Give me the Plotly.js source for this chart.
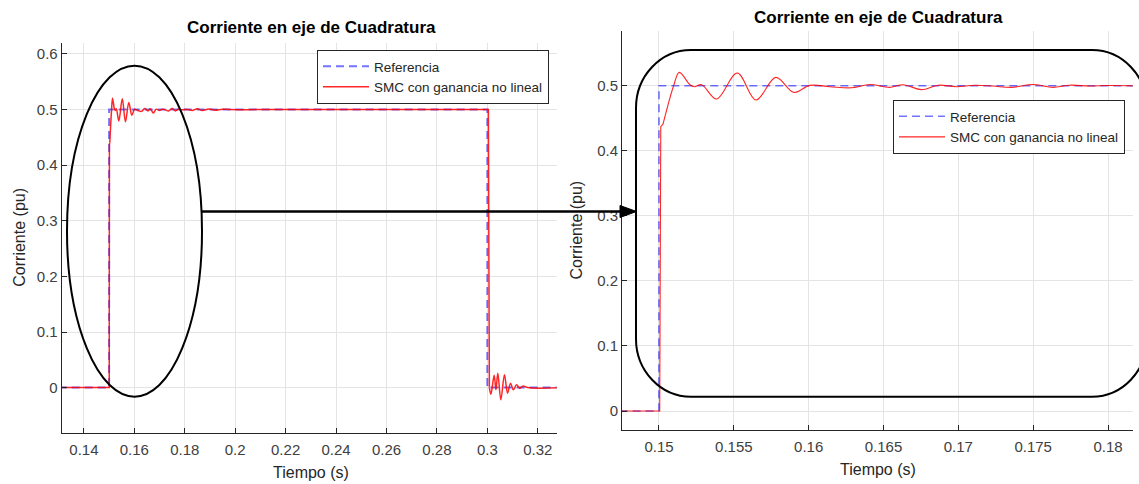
<!DOCTYPE html>
<html><head><meta charset="utf-8">
<script src="https://cdn.plot.ly/plotly-3.0.1.min.js"></script>
<style>html,body{margin:0;padding:0;background:#fff;} #chart{width:1139px;height:484px;}</style>
</head><body><div id="chart"></div>
<script>
// ---------------- data ----------------
const chartTitle = 'Corriente en eje de Cuadratura';
const xLabel = 'Tiempo (s)';
const yLabel = 'Corriente (pu)';
const seriesNames = ['Referencia', 'SMC con ganancia no lineal'];

// reference (step)
const refT = [0.13, 0.15, 0.15, 0.30, 0.30, 0.33];
const refV = [0, 0, 0.5, 0.5, 0, 0];

// SMC response (split into sharp steps and smooth ringing)
const smcStepUpT = [0.13, 0.15005, 0.15012, 0.15027];
const smcStepUpV = [0, 0, 0.437, 0.441];
const smcRippleT = [0.15027, 0.15098, 0.15136, 0.15207, 0.15236, 0.15285, 0.15385, 0.15523, 0.15648, 0.15781,
  0.15901, 0.16008, 0.16141, 0.16286, 0.16409, 0.16540, 0.16631, 0.16754, 0.16865, 0.16987,
  0.17110, 0.17230, 0.17355, 0.17499, 0.17632, 0.17744, 0.17877, 0.18000, 0.18133, 0.1830,
  0.1850, 0.1870, 0.1895, 0.1920, 0.1950, 0.1980, 0.2100, 0.3000];
const smcRippleV = [0.441, 0.5, 0.5205, 0.5015, 0.4985, 0.5015, 0.4795, 0.5195, 0.478, 0.5128,
  0.4897, 0.5005, 0.4985, 0.4968, 0.5018, 0.4975, 0.5015, 0.494, 0.5008, 0.4985,
  0.5008, 0.4995, 0.4974, 0.5018, 0.4975, 0.5008, 0.4995, 0.5003, 0.5, 0.4985,
  0.5015, 0.4985, 0.5012, 0.499, 0.5008, 0.5, 0.5, 0.5];
const smcStepDownT = [0.3000, 0.30040, 0.30080];
const smcStepDownV = [0.5, 0.5, 0.0];
const smcRingT = [0.30080, 0.30140, 0.30270, 0.30340, 0.30415, 0.30535, 0.30678, 0.30800, 0.30920, 0.31030,
  0.31160, 0.31280, 0.31420, 0.31600, 0.33];
const smcRingV = [0.0, -0.012, 0.022, -0.004, 0.026, -0.022, 0.023, -0.010, 0.008, -0.004,
  0.005, -0.001, 0.003, 0, 0];

// ticks
const leftXTicks = [0.14, 0.16, 0.18, 0.2, 0.22, 0.24, 0.26, 0.28, 0.3, 0.32];
const leftXTickText = ['0.14', '0.16', '0.18', '0.2', '0.22', '0.24', '0.26', '0.28', '0.3', '0.32'];
const leftYTicks = [0, 0.1, 0.2, 0.3, 0.4, 0.5, 0.6];
const leftYTickText = ['0', '0.1', '0.2', '0.3', '0.4', '0.5', '0.6'];
const rightXTicks = [0.15, 0.155, 0.16, 0.165, 0.17, 0.175, 0.18];
const rightXTickText = ['0.15', '0.155', '0.16', '0.165', '0.17', '0.175', '0.18'];
const rightYTicks = [0, 0.1, 0.2, 0.3, 0.4, 0.5];
const rightYTickText = ['0', '0.1', '0.2', '0.3', '0.4', '0.5'];

// ---------------- layout helpers ----------------
const W = 1139, H = 484;
const px = x => x / W, py = y => 1 - y / H;
const FONT = 'Liberation Sans, Arial, Helvetica, sans-serif';
const AX = '#262626';

const blue = 'rgba(0,0,255,0.55)';
const red = 'rgba(255,0,0,0.85)';

function makeTraces(xa, ya, leg, redW, blueW) {
  const t = [];
  t.push({x: refT, y: refV, xaxis: xa, yaxis: ya, mode: 'lines', name: seriesNames[0], legend: leg,
    line: {color: blue, width: blueW, dash: '8px,5px'}});
  const segs = [[smcStepUpT, smcStepUpV, 'linear'], [smcRippleT, smcRippleV, 'spline'],
                [smcStepDownT, smcStepDownV, 'linear'], [smcRingT, smcRingV, 'spline']];
  segs.forEach((s, i) => {
    t.push({x: s[0], y: s[1], xaxis: xa, yaxis: ya, mode: 'lines', name: seriesNames[1], legend: leg,
      legendgroup: 'smc' + leg, showlegend: i === 0,
      line: {color: red, width: redW, shape: s[2], smoothing: 1}});
  });
  return t;
}

const data = makeTraces('x', 'y', 'legend', 1.5, 2).concat(makeTraces('x2', 'y2', 'legend2', 1.1, 1.6));

function axisBase() {
  return {showline: true, linecolor: AX, linewidth: 1, mirror: false, showgrid: true, gridcolor: '#e4e4e4',
    gridwidth: 1, zeroline: false, ticks: 'inside', ticklen: 5, tickwidth: 1, tickcolor: AX,
    tickmode: 'array', tickfont: {family: FONT, size: 15, color: '#404040'}, fixedrange: true};
}

const xaxis = Object.assign(axisBase(), {domain: [px(61.7), px(556.7)], range: [0.1312, 0.3275], anchor: 'y',
  tickvals: leftXTicks, ticktext: leftXTickText, ticklabelstandoff: 3});
const yaxis = Object.assign(axisBase(), {domain: [py(432.7), py(42.7)], range: [-0.0811, 0.6203], anchor: 'x',
  tickvals: leftYTicks, ticktext: leftYTickText});
const xaxis2 = Object.assign(axisBase(), {domain: [px(622), px(1132.7)], range: [0.14753, 0.18165], anchor: 'y2',
  tickvals: rightXTicks, ticktext: rightXTickText, ticklabelstandoff: 3});
const yaxis2 = Object.assign(axisBase(), {domain: [py(430), py(31)], range: [-0.0292, 0.5841], anchor: 'x2',
  tickvals: rightYTicks, ticktext: rightYTickText});

function legendBox(x, y) {
  return {x: px(x), y: py(y), xref: 'paper', yref: 'paper', xanchor: 'left', yanchor: 'top',
    bgcolor: '#ffffff', bordercolor: AX, borderwidth: 1, tracegroupgap: 0, itemwidth: 46,
    font: {family: FONT, size: 13.5, color: '#262626'}};
}

function ann(text, x, y, size, angle, color) {
  return {text: text, x: px(x), y: py(y), xref: 'paper', yref: 'paper', showarrow: false,
    xanchor: 'center', yanchor: 'middle', textangle: angle || 0,
    font: {family: FONT, size: size, color: color || '#262626'}};
}

const annotations = [
  ann('<b>' + chartTitle + '</b>', 311, 27.5, 17, 0, '#000'),
  ann('<b>' + chartTitle + '</b>', 878, 17.5, 17, 0, '#000'),
  ann(xLabel, 310.5, 472, 16),
  ann(xLabel, 878, 469, 16),
  ann(yLabel, 20, 237.7, 16, -90),
  ann(yLabel, 576, 230.5, 16, -90)
];

// rounded rectangle path (cubic approximations of quarter ellipses), pixel -> paper
function P(x, y) { return px(x).toFixed(5) + ',' + py(y).toFixed(5); }
function roundRect(x0, y0, x1, y1, rx, ry) {
  const k = 0.5523;
  return 'M' + P(x0 + rx, y0) + ' L' + P(x1 - rx, y0) +
    ' C' + P(x1 - rx + k * rx, y0) + ' ' + P(x1, y0 + ry - k * ry) + ' ' + P(x1, y0 + ry) +
    ' L' + P(x1, y1 - ry) +
    ' C' + P(x1, y1 - ry + k * ry) + ' ' + P(x1 - rx + k * rx, y1) + ' ' + P(x1 - rx, y1) +
    ' L' + P(x0 + rx, y1) +
    ' C' + P(x0 + rx - k * rx, y1) + ' ' + P(x0, y1 - ry + k * ry) + ' ' + P(x0, y1 - ry) +
    ' L' + P(x0, y0 + ry) +
    ' C' + P(x0, y0 + ry - k * ry) + ' ' + P(x0 + rx - k * rx, y0) + ' ' + P(x0 + rx, y0) + ' Z';
}

const shapes = [
  {type: 'circle', xref: 'paper', yref: 'paper', x0: px(67), x1: px(202), y0: py(396.7), y1: py(65.7),
    line: {color: '#000', width: 2}},
  {type: 'path', xref: 'paper', yref: 'paper', path: roundRect(636, 50, 1147, 396.7, 55, 58),
    line: {color: '#000', width: 2}},
  {type: 'line', xref: 'paper', yref: 'paper', x0: px(202), x1: px(622), y0: py(211.5), y1: py(211.5),
    line: {color: '#000', width: 2.5}},
  {type: 'path', xref: 'paper', yref: 'paper', path: 'M' + P(620, 205.5) + ' L' + P(636.5, 211.5) + ' L' + P(620, 217.5) + ' Z',
    fillcolor: '#000', line: {color: '#000', width: 1}}
];

const layout = {
  width: W, height: H, margin: {l: 0, r: 0, t: 0, b: 0},
  paper_bgcolor: '#fff', plot_bgcolor: '#fff',
  font: {family: FONT, color: '#262626'},
  xaxis: xaxis, yaxis: yaxis, xaxis2: xaxis2, yaxis2: yaxis2,
  legend: legendBox(317, 50), legend2: legendBox(893, 100),
  annotations: annotations, shapes: shapes, showlegend: true
};

Plotly.newPlot('chart', data, layout, {displayModeBar: false, staticPlot: true});
</script></body></html>
